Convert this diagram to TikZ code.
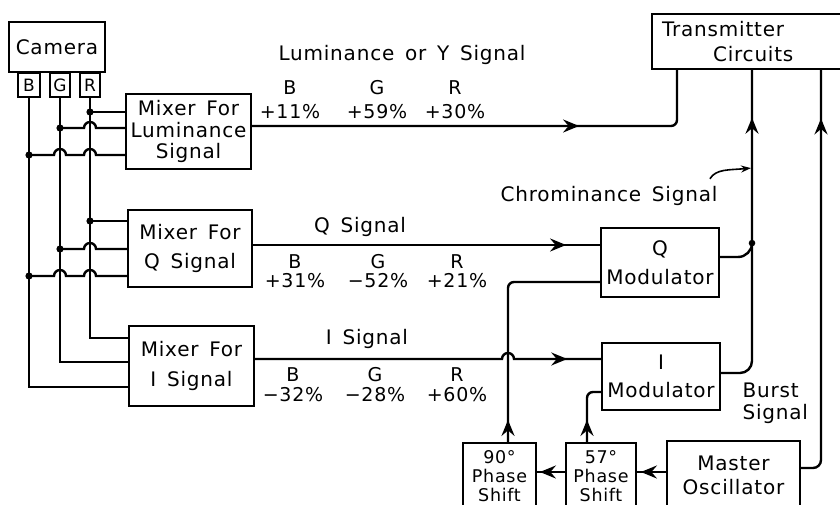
\documentclass[tikz,border=0pt]{standalone}
\usepackage{fontspec}
\setmainfont{DejaVu Sans}[LetterSpace=4,WordSpace=1.5]
\usetikzlibrary{arrows.meta,positioning,calc,decorations.markings}
\newcommand\hopover[1]{-- ($(#1)+(-6,0)$) arc[start angle=180,end angle=360,radius=6]}

\begin{document}
\begin{tikzpicture}[x=1pt,y=-1pt,line width=2.4pt,
  font=\fontsize{20}{21.5}\selectfont,
  >={Stealth[length=16pt,width=13pt,inset=5.5pt]},
  box/.style={draw,line width=2.2pt,align=center,inner sep=2pt},
  tab/.style={box,font=\fontsize{17}{17}\selectfont,minimum height=24pt,inner sep=0pt},
  small/.style={box,font=\fontsize{17.5}{19}\selectfont},
  coef/.style={align=center,inner sep=0pt,font=\fontsize{19}{#1}\selectfont},
  arr/.style={postaction={decorate},decoration={markings,mark=at position #1 with {\arrow{>}}}}]
  \useasboundingbox (0,0) rectangle (840,505);

  \node[box,minimum width=96pt,minimum height=50pt] (cam) at (57,47) {Camera};
  \node[tab,minimum width=22pt] (bt) at (29,85) {B};
  \node[tab,minimum width=20pt] (gt) at (60,85) {G};
  \node[tab,minimum width=20pt] (rt) at (90,85) {R};

  \node[box,minimum width=125pt,minimum height=75pt] (lmix) at (188.5,131.5) {Mixer For\\Luminance\\Signal};
  \node[box,minimum width=124pt,minimum height=77pt] (qmix) at (190,248.5) {Mixer For\\[8pt]Q Signal};
  \node[box,minimum width=125pt,minimum height=80pt] (imix) at (191.5,366) {Mixer For\\[8pt]I Signal};

  \node[box,minimum width=200pt,minimum height=55pt,text width=180pt,align=left] (tx) at (752,41.5)
    {Transmitter\\[3pt]\hspace*{51pt}Circuits};
  \node[box,minimum width=118pt,minimum height=69pt] (qmod) at (660,262.5) {Q\\[8pt]Modulator};
  \node[box,minimum width=118pt,minimum height=67pt] (imod) at (661,376.5) {I\\[6pt]Modulator};
  \node[small,minimum width=73pt,minimum height=67pt] (p90) at (499.5,476.5) {90°\\Phase\\Shift};
  \node[small,minimum width=70pt,minimum height=67pt] (p57) at (601,476.5) {57°\\Phase\\Shift};
  \node[box,minimum width=133pt,minimum height=69pt] (osc) at (733.5,475.5) {Master\\[3pt]Oscillator};

  \node (ylab) at (402,55) {Luminance or Y Signal};
  \node[coef=24] (cyb) at (290,100) {B\\+11\%};
  \node[coef=24] (cyg) at (377,100) {G\\+59\%};
  \node[coef=24] (cyr) at (455,100) {R\\+30\%};
  \node (qlab) at (360,227) {Q Signal};
  \node[coef=19] (cqb) at (295,271.5) {B\\+31\%};
  \node[coef=19] (cqg) at (378,271.5) {G\\−52\%};
  \node[coef=19] (cqr) at (457,271.5) {R\\+21\%};
  \node (ilab) at (367,339) {I Signal};
  \node[coef=20] (cib) at (293,385) {B\\−32\%};
  \node[coef=20] (cig) at (375,385) {G\\−28\%};
  \node[coef=20] (cir) at (457,385) {R\\+60\%};
  \node (chr) at (609,196) {Chrominance Signal};
  \node[align=left,anchor=west] (bur) at (738,403.5) {Burst\\Signal};

  \coordinate (lmr) at ($(lmix.west)+(0,-19.5)$);
  \coordinate (lmg) at ($(lmix.west)+(0,-3.5)$);
  \coordinate (lmb) at ($(lmix.west)+(0,23.5)$);
  \coordinate (qmr) at ($(qmix.west)+(0,-27.5)$);
  \coordinate (qmg) at ($(qmix.west)+(0,0.5)$);
  \coordinate (qmb) at ($(qmix.west)+(0,27.5)$);
  \coordinate (imr) at ($(imix.west)+(0,-28)$);
  \coordinate (img) at ($(imix.west)+(0,-4)$);
  \coordinate (imb) at ($(imix.west)+(0,21)$);

  \draw (rt.south) |- (imr);
  \draw (gt.south) |- (img);
  \draw (bt.south) |- (imb);
  \draw (rt |- lmr) -- (lmr);
  \draw (gt |- lmg) \hopover{rt |- lmg} -- (lmg);
  \draw (bt |- lmb) \hopover{gt |- lmb} \hopover{rt |- lmb} -- (lmb);
  \draw (rt |- qmr) -- (qmr);
  \draw (gt |- qmg) \hopover{rt |- qmg} -- (qmg);
  \draw (bt |- qmb) \hopover{gt |- qmb} \hopover{rt |- qmb} -- (qmb);
  \foreach \p in {rt |- lmr,gt |- lmg,bt |- lmb,rt |- qmr,gt |- qmg,bt |- qmb}
    \fill (\p) circle[radius=3.6];

  \coordinate (txl) at ($(tx.south)+(-75,0)$);
  \coordinate (txb) at ($(tx.south)+(69,0)$);
  \coordinate (qmi) at ($(qmod.west)+(0,-17.5)$);
  \coordinate (qmp) at ($(qmod.west)+(0,19.5)$);
  \coordinate (imi) at ($(imod.west)+(0,-17.5)$);
  \coordinate (imp) at ($(imod.west)+(0,15.5)$);
  \coordinate (p90o) at ($(p90.north)+(8.5,0)$);
  \coordinate (p57o) at ($(p57.north)+(-14,0)$);
  \coordinate (oscw) at ($(osc.west)+(0,-3.5)$);
  \coordinate (chj) at ($(tx.south)+(0,173)$);
  \coordinate (chp) at ($(tx.south)+(-1,98)$);

  \draw[arr=327pt,rounded corners=6pt] ($(lmix.east)+(0,-5.5)$) -| (txl);
  \draw[arr=313pt] (qmix.east |- qmi) -- (qmi);
  \draw[arr=319pt] (imix.east |- imi) \hopover{p90o |- imi} -- (imi);
  \draw[arr=22pt,rounded corners=6pt] (p90o) |- (qmp);
  \draw[arr=22pt,rounded corners=6pt] (p57o) |- (imp);
  \draw[arr=25pt] (oscw) -- (p57.east |- oscw);
  \draw[arr=25pt] (p57.west |- oscw) -- (p90.east |- oscw);
  \draw[arr=281pt,rounded corners=12pt] ($(imod.east)+(0,-3.5)$) -| (tx.south);
  \draw[rounded corners=14pt] ($(qmod.east)+(0,-5.5)$) -| (chj);
  \fill (chj) circle[radius=3.3];
  \draw[arr=366pt,rounded corners=8pt] ($(osc.east)+(0,-7.5)$) -| (txb);
  \draw[line width=1.6pt,-{Stealth[length=10pt,width=7pt]}] ($(chr.north east)+(-12,-3)$)
    .. controls +(6,-10) and +(-22,2) .. (chp);
\end{tikzpicture}
\end{document}
